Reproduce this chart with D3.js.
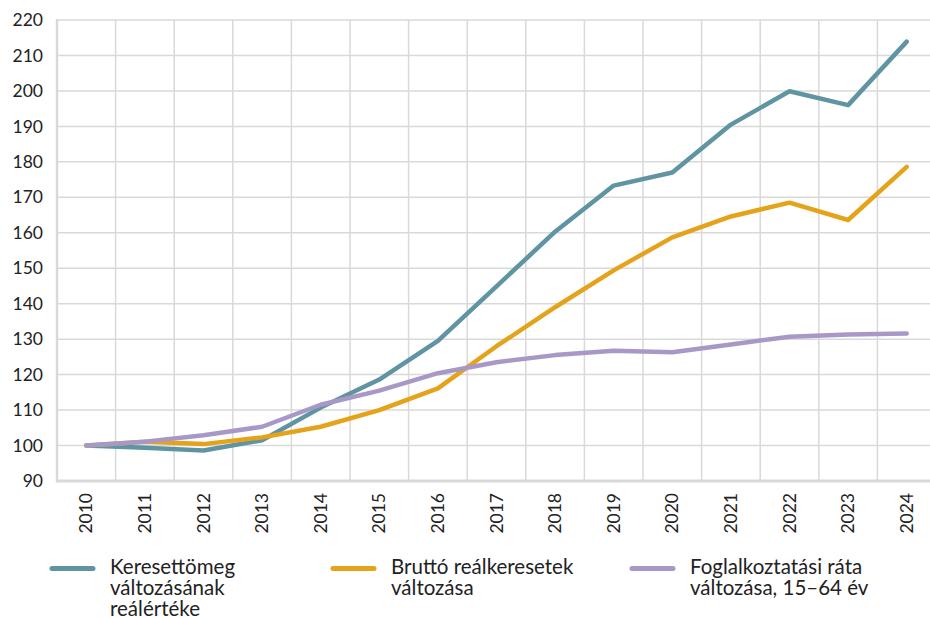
<!DOCTYPE html>
<html>
<head>
<meta charset="utf-8">
<script src="https://cdn.jsdelivr.net/npm/d3@7"></script>
<style>
  html, body { margin: 0; padding: 0; background: #fff; }
  svg { display: block; }
</style>
</head>
<body>
<div id="vis"></div>
<script>
const years = [2010, 2011, 2012, 2013, 2014, 2015, 2016, 2017, 2018, 2019, 2020, 2021, 2022, 2023, 2024];
const yTicks = [90, 100, 110, 120, 130, 140, 150, 160, 170, 180, 190, 200, 210, 220];

const keresettomeg = [100, 99.4, 98.6, 101.5, 110.7, 118.6, 129.5, 144.9, 160.3, 173.3, 177.0, 190.5, 199.9, 196.0, 213.9];
const brutto = [100, 101.1, 100.4, 102.3, 105.3, 110.0, 116.1, 128.0, 139.0, 149.4, 158.7, 164.6, 168.5, 163.6, 178.6];
const foglalkoztatas = [100, 101.1, 102.9, 105.3, 111.5, 115.5, 120.4, 123.5, 125.5, 126.7, 126.3, 128.5, 130.7, 131.3, 131.6];

const seriesNames = [
  ["Keresettömeg", "változásának", "reálértéke"],
  ["Bruttó reálkeresetek", "változása"],
  ["Foglalkoztatási ráta", "változása, 15–64 év"]
];
const seriesColors = ["#5f94a2", "#e5a31b", "#a898c8"];
const seriesValues = [keresettomeg, brutto, foglalkoztatas];

const W = 930, H = 618;
const mLeft = 57, mTop = 20, mBottom = 481, mRight = 936;
const font = "Lato, 'Open Sans', sans-serif";
const grid = "#d9d9d9";

const svg = d3.select("#vis").append("svg")
  .attr("width", W).attr("height", H);

const x = d3.scaleBand().domain(years).range([mLeft, mRight]).paddingInner(0).paddingOuter(0);
const y = d3.scaleLinear().domain([90, 220]).range([mBottom, mTop]);
const cx = d => x(d) + x.bandwidth() / 2;

// horizontal gridlines
svg.append("g").selectAll("line")
  .data(yTicks.filter(t => t > 90))
  .enter().append("line")
  .attr("x1", mLeft).attr("x2", mRight)
  .attr("y1", d => y(d)).attr("y2", d => y(d))
  .attr("stroke", grid).attr("stroke-width", 1.5);

// vertical gridlines at band edges
svg.append("g").selectAll("line")
  .data(years)
  .enter().append("line")
  .attr("x1", d => x(d) + x.bandwidth()).attr("x2", d => x(d) + x.bandwidth())
  .attr("y1", mTop).attr("y2", mBottom)
  .attr("stroke", grid).attr("stroke-width", 1.5);

// axis frame lines
svg.append("line")
  .attr("x1", mLeft).attr("x2", mLeft).attr("y1", mTop - 1).attr("y2", mBottom + 1.5)
  .attr("stroke", grid).attr("stroke-width", 2.5);
svg.append("line")
  .attr("x1", mLeft - 1).attr("x2", mRight).attr("y1", mBottom).attr("y2", mBottom)
  .attr("stroke", grid).attr("stroke-width", 3);

// y tick labels
svg.append("g").selectAll("text")
  .data(yTicks)
  .enter().append("text")
  .attr("x", 43).attr("y", d => y(d))
  .attr("dy", "0.35em")
  .attr("text-anchor", "end")
  .style("font-family", font).style("font-size", "17.5px")
  .attr("fill", "#222")
  .text(d => d);

// x tick labels (rotated)
svg.append("g").selectAll("text")
  .data(years)
  .enter().append("text")
  .attr("transform", d => "translate(" + cx(d) + "," + 493 + ") rotate(-90)")
  .attr("dy", "0.35em")
  .attr("text-anchor", "end")
  .style("font-family", font).style("font-size", "17.5px")
  .attr("fill", "#222")
  .text(d => d);

// lines
const line = d3.line()
  .x((d, i) => cx(years[i]))
  .y(d => y(d));

svg.append("g").selectAll("path")
  .data([0, 1, 2])
  .enter().append("path")
  .attr("d", i => line(seriesValues[i]))
  .attr("fill", "none")
  .attr("stroke", i => seriesColors[i])
  .attr("stroke-width", 4.5)
  .attr("stroke-linejoin", "round")
  .attr("stroke-linecap", "round");

// legend
const legendX = [52, 333, 632];
const legend = svg.append("g").selectAll("g")
  .data(seriesNames)
  .enter().append("g")
  .attr("transform", (d, i) => "translate(" + legendX[i] + ",0)");

legend.append("line")
  .attr("x1", 0).attr("x2", 41)
  .attr("y1", 568.5).attr("y2", 568.5)
  .attr("stroke", (d, i) => seriesColors[i])
  .attr("stroke-width", 5)
  .attr("stroke-linecap", "round");

legend.append("text")
  .style("font-family", font).style("font-size", "20.5px")
  .attr("fill", "#222")
  .selectAll("tspan")
  .data(d => d)
  .enter().append("tspan")
  .attr("x", 58)
  .attr("y", (d, i) => 573.5 + i * 21)
  .text(d => d);
</script>
</body>
</html>
